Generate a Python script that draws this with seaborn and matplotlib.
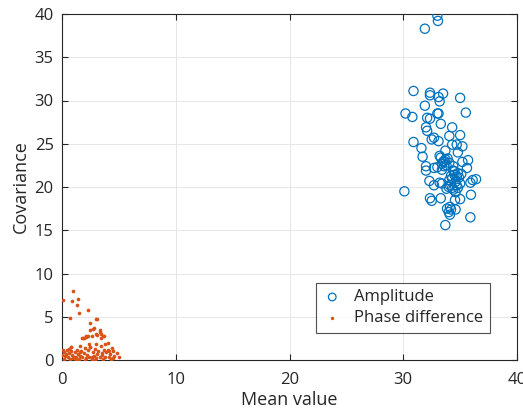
import numpy as np
import pandas as pd
import matplotlib
matplotlib.use("Agg")
import matplotlib.pyplot as plt
import seaborn as sns

# Amplitude cluster (mean value, covariance)
amp_x = [33.0, 33.05, 31.9, 30.9, 32.35, 32.35, 33.5, 33.1, 33.2, 35.0, 31.9, 30.2, 30.8,
         33.0, 33.1, 35.5, 32.1, 32.35, 33.3, 32.0, 32.1, 34.3, 34.05, 35.0, 32.5, 32.7,
         33.1, 30.9, 34.3, 34.7, 35.2, 31.6, 33.7, 34.8, 31.7, 33.3, 33.7, 33.5, 34.05,
         35.7, 35.2, 33.4, 33.8, 32.0, 32.0, 32.7, 33.0, 33.6, 34.4, 35.6, 34.4, 34.8,
         35.1, 34.7, 34.3, 34.05, 32.3, 33.2, 33.4, 32.7, 34.1, 34.7, 35.0, 35.9, 36.1,
         36.4, 33.8, 34.4, 34.8, 30.1, 34.6, 35.95, 32.35, 32.5, 33.3, 34.55, 35.0, 33.85,
         34.1, 34.2, 34.6, 34.0, 34.1, 35.9, 33.7, 33.6, 33.9, 34.2, 34.5, 34.6, 34.9,
         33.4, 33.2, 34.0, 34.3, 34.5]
amp_y = [39.8, 39.2, 38.3, 31.1, 30.9, 30.6, 30.8, 30.4, 29.9, 30.3, 29.4, 28.5, 28.1,
         28.5, 28.5, 28.6, 28.0, 27.9, 27.3, 26.9, 26.5, 26.9, 25.9, 26.0, 25.5, 25.7,
         25.3, 25.2, 24.9, 24.9, 24.7, 24.5, 24.2, 24.0, 23.5, 23.4, 23.2, 22.9, 22.8,
         23.1, 22.9, 22.7, 22.5, 22.4, 21.9, 22.2, 22.3, 22.4, 22.4, 22.2, 21.9, 21.6,
         21.5, 21.2, 21.0, 20.8, 20.7, 20.5, 20.4, 20.2, 20.2, 20.2, 20.4, 20.5, 20.8,
         20.9, 19.8, 19.7, 19.9, 19.5, 19.4, 19.1, 18.7, 18.4, 18.7, 18.5, 18.6, 17.5,
         17.7, 17.4, 17.4, 17.1, 16.8, 16.5, 15.6, 23.0, 23.3, 21.3, 21.8, 20.6, 21.1,
         22.0, 23.6, 20.0, 19.9, 21.4]

# Phase difference cluster
ph_x = [0.94, 0.06, 0.85, 1.38, 1.32, 1.49, 2.29, 0.73, 2.99, 3.1, 2.46, 2.8, 2.7, 2.5,
        3.3, 3.35, 3.45, 3.6, 3.65, 3.0, 3.1, 2.1, 2.25, 1.88, 2.6,
        0.1, 0.2, 0.3, 0.4, 0.5, 0.6, 0.7, 0.8, 0.9, 1.0, 1.1, 1.2, 1.3, 1.4, 1.5, 1.6,
        1.7, 1.8, 1.9, 2.0, 2.1, 2.2, 2.3, 2.4, 2.5, 2.6, 2.7, 2.8, 2.9, 3.0, 3.1, 3.2,
        3.3, 3.4, 3.5, 3.6, 3.7, 3.8, 3.9, 4.0, 4.1, 4.2, 4.4, 4.5, 4.6, 4.8, 5.0, 0.2,
        0.6, 1.2, 2.0, 2.9, 0.0, 1.6, 2.4, 3.0, 3.8, 0.8, 4.0, 1.9, 2.1, 3.4, 1.76, 0.82,
        2.46, 4.1, 4.5, 0.35, 1.05, 1.55, 2.65, 3.55, 4.3]
ph_y = [8.0, 6.9, 6.8, 7.05, 6.36, 5.43, 5.74, 4.9, 4.78, 4.7, 4.3, 3.7, 3.6, 3.5,
        3.5, 3.25, 3.0, 2.8, 2.75, 3.0, 2.9, 2.8, 2.75, 2.55, 2.8,
        1.2, 0.9, 0.5, 1.1, 0.3, 0.8, 0.1, 1.5, 0.6, 0.2, 0.9, 0.4, 1.2, 0.7, 0.1, 0.5,
        1.0, 0.3, 0.8, 1.4, 0.2, 0.6, 1.1, 0.4, 1.5, 0.1, 0.9, 0.5, 1.3, 0.2, 0.7, 1.0,
        0.3, 1.6, 0.6, 0.1, 1.2, 0.4, 0.9, 1.1, 0.3, 0.7, 1.4, 0.2, 0.5, 0.8, 0.3, 0.1,
        1.3, 0.0, 0.0, 0.0, 0.6, 1.6, 1.9, 1.9, 1.9, 1.0, 2.0, 2.5, 2.7, 2.6, 2.5, 1.54,
        1.54, 1.08, 1.0, 0.7, 0.4, 0.9, 0.3, 0.8, 0.15]

amp_df = pd.DataFrame({"Mean value": amp_x, "Covariance": amp_y})
ph_df = pd.DataFrame({"Mean value": ph_x, "Covariance": ph_y})

sns.set_style("white")
plt.rcParams['font.family'] = ['Open Sans', 'DejaVu Sans']

fig = plt.figure(figsize=(5.23, 4.17), dpi=100)
ax = fig.add_axes([62 / 523, 1 - 360 / 417, 455 / 523, 346 / 417])

blue = "#0072BD"
orange = "#D95319"

sns.scatterplot(data=amp_df, x="Mean value", y="Covariance", ax=ax, marker="o",
                s=44, fc="none", ec=blue, linewidth=0.9, label="Amplitude", zorder=3)
sns.scatterplot(data=ph_df, x="Mean value", y="Covariance", ax=ax, marker="o",
                s=7, color=orange, linewidth=0, label="Phase difference", zorder=3)

ax.set_xlim(0, 40)
ax.set_ylim(0, 40)
ax.set_xticks([0, 10, 20, 30, 40])
ax.set_yticks([0, 5, 10, 15, 20, 25, 30, 35, 40])
ax.grid(True, color="#e6e6e6", linewidth=0.7)
ax.set_axisbelow(True)
for sp in ax.spines.values():
    sp.set_color("#262626")
    sp.set_linewidth(0.8)
    sp.set_visible(True)
ax.tick_params(direction="in", length=4, width=0.8, colors="#262626",
               labelsize=12, top=True, right=True, bottom=True, left=True)
ax.tick_params(axis="x", pad=9)
ax.tick_params(axis="y", pad=6)
ax.set_xlabel("Mean value", fontsize=13, color="#262626", labelpad=2)
ax.set_ylabel("Covariance", fontsize=13, color="#262626", labelpad=3)

leg = ax.legend(loc="lower right", bbox_to_anchor=(0.94, 0.078), frameon=True,
                fancybox=False, fontsize=12, handletextpad=0.7, borderpad=0.4,
                labelspacing=0.3, handlelength=1.2, borderaxespad=0)
leg.get_frame().set_edgecolor("#262626")
leg.get_frame().set_linewidth(0.8)
for h in leg.legend_handles:
    try:
        h.set_sizes([30])
    except Exception:
        pass
leg.legend_handles[1].set_sizes([6])

fig.savefig("out.png", dpi=100)
